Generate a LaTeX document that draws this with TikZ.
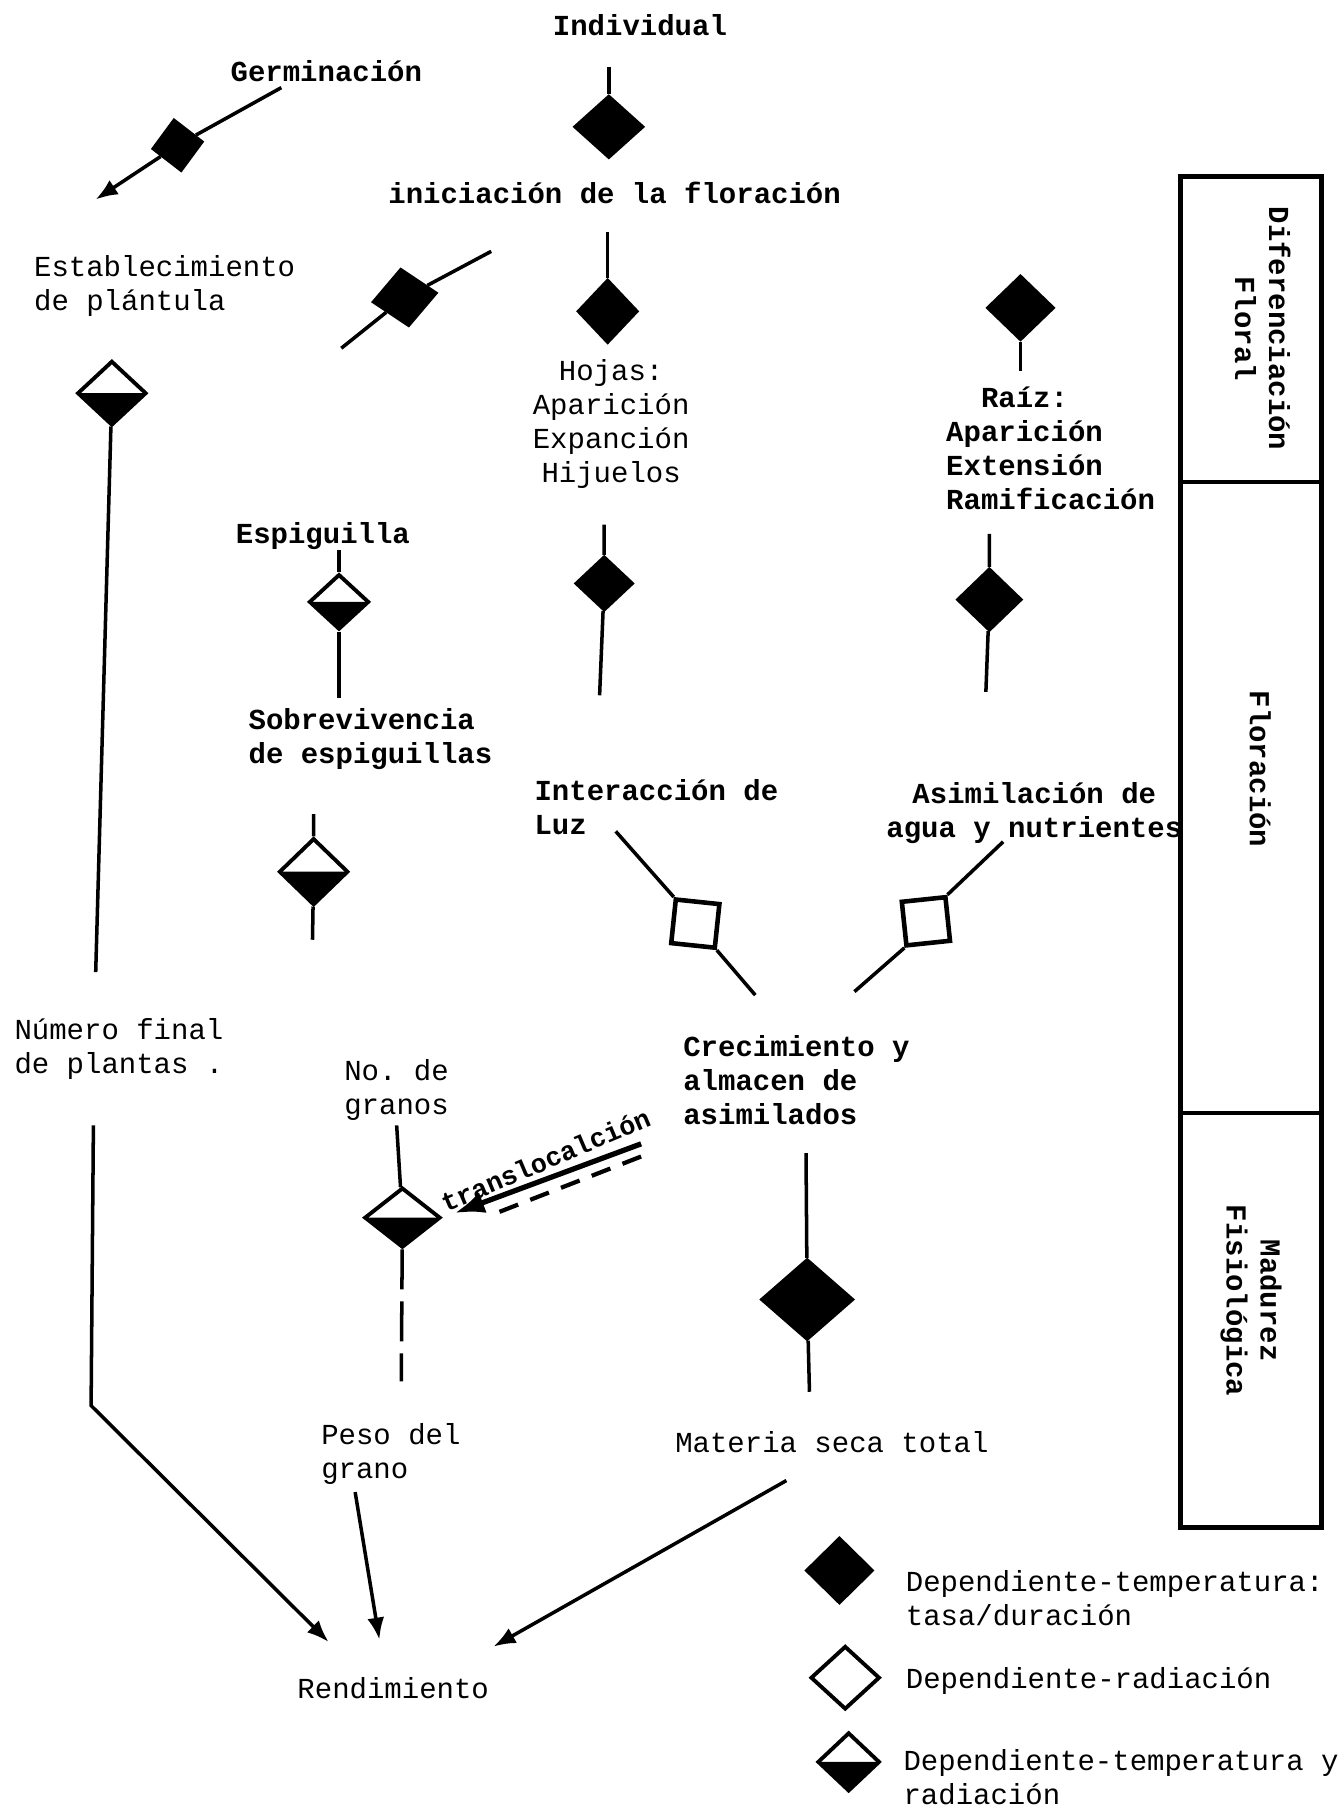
\documentclass[tikz,border=0pt]{standalone}
\usepackage{fontspec}
\setmonofont{Liberation Mono}
\usepackage{tikz}
\usetikzlibrary{arrows.meta,shapes.geometric}
\newlength{\pu}
\setlength{\pu}{0.11529mm}
\newcommand{\labfont}{\ttfamily\bfseries\fontsize{8.25}{9.7}\selectfont}
\newcommand{\legfont}{\ttfamily\fontsize{8.25}{9.7}\selectfont}
\newcommand{\trfont}{\ttfamily\bfseries\fontsize{7.6}{9}\selectfont}
\tikzset{
  lab/.style={font=\labfont, inner sep=0pt, align=left},
  labl/.style={font=\legfont, inner sep=0pt, align=left},
  link/.style={line width=1pt},
  arr/.style={line width=1pt, -{Latex[length=2.2mm, width=1.7mm]}},
  arrT/.style={line width=1.5pt, -{Latex[length=3mm, width=2.2mm]}},
  tdiam/.style 2 args={diamond, draw, line width=0.9pt, fill=black, inner sep=0pt,
    minimum width=#1*\pu, minimum height=#2*\pu},
  rdiam/.style 2 args={diamond, draw, line width=1.1pt, fill=white, inner sep=0pt,
    minimum width=#1*\pu, minimum height=#2*\pu},
  trdiam/.style 2 args={diamond, draw, line width=1.1pt, fill=white, inner sep=0pt,
    minimum width=#1*\pu, minimum height=#2*\pu,
    path picture={\fill[black] (path picture bounding box.west) -- (path picture bounding box.east)
      -- (path picture bounding box.south) -- cycle;}},
  rsq/.style={draw, line width=1.3pt, fill=white, inner sep=0pt, minimum size=38*\pu}
}

\begin{document}
\begin{tikzpicture}[x=0.11529mm, y=-0.11529mm]
			%%%%% START %%%%%
			\useasboundingbox (0,0) rectangle (1164,1568);

			% etapas
			\draw[line width=1.4pt] (1024,153) rectangle (1146,1325);
			\draw[line width=1.2pt] (1024,418) -- (1146,418);
			\draw[line width=1.2pt] (1024,965) -- (1146,965);
			\node[lab, align=center, rotate=-90] (etDif) at (1095,285) {Diferenciación\\Floral};
			\node[lab, rotate=-90] (etFlo) at (1093,667) {Floración};
			\node[lab, align=center, rotate=-90] (etMad) at (1085,1128) {Madurez\\Fisiológica};

			% textos
			\node[lab] (ind) at (555,22) {Individual};
			\node[lab] (germ) at (283,62) {Germinación};
			\node[lab] (inic) at (533,167) {iniciación de la floración};
			\node[labl, anchor=west] (estab) at (29,248) {Establecimiento\\de plántula};
			\node[labl, align=center] (hojas) at (530,368) {Hojas:\\Aparición\\Expanción\\Hijuelos};
			\node[lab, anchor=west] (raiz) at (820,389) {\phantom{xx}Raíz:\\Aparición\\Extensión\\Ramificación};
			\node[lab] (espig) at (280,465) {Espiguilla};
			\node[lab, anchor=west] (sobrev) at (215,641) {Sobrevivencia\\de espiguillas};
			\node[lab, anchor=west] (interac) at (463,700) {Interacción de\\Luz};
			\node[lab, align=center] (asimil) at (897,705) {Asimilación de\\agua y nutrientes};
			\node[labl, anchor=west] (numfin) at (12,910) {Número final\\de plantas .};
			\node[lab, anchor=west] (crecim) at (592,937) {Crecimiento y\\almacen de\\asimilados};
			\node[labl, anchor=west] (nogranos) at (298,945) {No. de\\granos};
			\node[font=\trfont, inner sep=0pt, rotate=23] (transl) at (473,1006) {translocalción};
			\node[labl, anchor=west] (pesog) at (278,1261) {Peso del\\grano};
			\node[labl, anchor=west] (matseca) at (585,1251) {Materia seca total};
			\node[labl] (rend) at (341,1464) {Rendimiento};

			% simbolos
			\node[tdiam={60}{54}] (dInd) at (528,110) {};
			\node[tdiam={44}{45}, rotate=8] (dGerm) at (154,126) {};
			\node[tdiam={56}{50}, rotate=8] (dPl) at (351,258) {};
			\node[tdiam={52}{55}] (dHoj) at (527,270) {};
			\node[tdiam={58}{56}] (dRaiz) at (885,267) {};
			\node[tdiam={50}{47}] (dHoj2) at (524,506) {};
			\node[tdiam={56}{54}] (dRaiz2) at (858,520) {};
			\node[trdiam={52}{48}] (dEsp) at (294,522) {};
			\node[trdiam={60}{58}] (dSob) at (272,756) {};
			\node[trdiam={60}{56}] (dEst) at (97,341) {};
			\node[trdiam={66}{52}] (dNg) at (349,1056) {};
			\node[tdiam={80}{70}] (dCr) at (700,1127) {};
			\node[rsq, rotate=-6] (sqLuz) at (603,801) {};
			\node[rsq, rotate=6] (sqAg) at (803,799) {};

			% puntos libres
			\coordinate (cInd) at (528,58);
			\coordinate (cGermA) at (244,76);
			\coordinate (cGermB) at (83,173);
			\coordinate (cPlA) at (426,218);
			\coordinate (cPlB) at (296,302);
			\coordinate (cHojA) at (527,201);
			\coordinate (cRaizB) at (885,322);
			\coordinate (cHoj2A) at (524,455);
			\coordinate (cHoj2B) at (520,603);
			\coordinate (cRaiz2A) at (858,463);
			\coordinate (cRaiz2B) at (855,600);
			\coordinate (cEspA) at (294,477);
			\coordinate (cEspB) at (294,605);
			\coordinate (cSobA) at (272,706);
			\coordinate (cSobB) at (271,815);
			\coordinate (cEstB) at (83,843);
			\coordinate (cNumA) at (81,976);
			\coordinate (cNumM) at (79,1219);
			\coordinate (cNumB) at (285,1424);
			\coordinate (cNgA) at (344,976);
			\coordinate (cNgB) at (348,1198);
			\coordinate (cTrA) at (556,992);
			\coordinate (cTrDA) at (556,1003);
			\coordinate (cTrDB) at (428,1053);
			\coordinate (cCrA) at (699,1000);
			\coordinate (cCrB) at (702,1207);
			\coordinate (cLuzA) at (534,721);
			\coordinate (cLuzB) at (655,863);
			\coordinate (cAgA) at (870,730);
			\coordinate (cAgB) at (741,860);
			\coordinate (cPesA) at (308,1294);
			\coordinate (cPesB) at (329,1422);
			\coordinate (cMatA) at (682,1284);
			\coordinate (cMatB) at (428,1428);

			% conectores
			\draw[link] (cInd) -- (dInd);
			\draw[link] (cGermA) -- (dGerm);
			\draw[arr] (dGerm) -- (cGermB);
			\draw[link] (cPlA) -- (dPl) -- (cPlB);
			\draw[link] (cHojA) -- (dHoj);
			\draw[link] (dRaiz) -- (cRaizB);
			\draw[link] (cHoj2A) -- (dHoj2) -- (cHoj2B);
			\draw[link] (cRaiz2A) -- (dRaiz2) -- (cRaiz2B);
			\draw[link] (cEspA) -- (dEsp) -- (cEspB);
			\draw[link] (cSobA) -- (dSob) -- (cSobB);
			\draw[link] (dEst) -- (cEstB);
			\draw[arr] (cNumA) -- (cNumM) -- (cNumB);
			\draw[link] (cNgA) -- (dNg);
			\draw[link, dashed, dash pattern=on 4mm off 1.2mm] (dNg) -- (cNgB);
			\draw[arrT, shorten >=1.3mm] (cTrA) -- (dNg.east);
			\draw[line width=1.2pt, dash pattern=on 2mm off 1.3mm] (cTrDA) -- (cTrDB);
			\draw[link] (cCrA) -- (dCr) -- (cCrB);
			\draw[link] (cLuzA) -- (sqLuz.north west);
			\draw[link] (sqLuz.south east) -- (cLuzB);
			\draw[link] (cAgA) -- (sqAg.north east);
			\draw[link] (sqAg.south west) -- (cAgB);
			\draw[arr] (cPesA) -- (cPesB);
			\draw[arr] (cMatA) -- (cMatB);

			% leyenda
			\node[tdiam={58}{57}] (lgT) at (728,1362) {};
			\node[rdiam={60}{55}] (lgR) at (733,1455) {};
			\node[trdiam={54}{51}] (lgTR) at (736,1528) {};
			\node[labl, anchor=west] (lgTt) at (785,1386) {Dependiente-temperatura:\\tasa/duración};
			\node[labl, anchor=west] (lgRt) at (785,1458) {Dependiente-radiación};
			\node[labl, anchor=west] (lgTRt) at (783,1541) {Dependiente-temperatura y\\radiación};
			%%%%% END %%%%%
\end{tikzpicture}
\end{document}
